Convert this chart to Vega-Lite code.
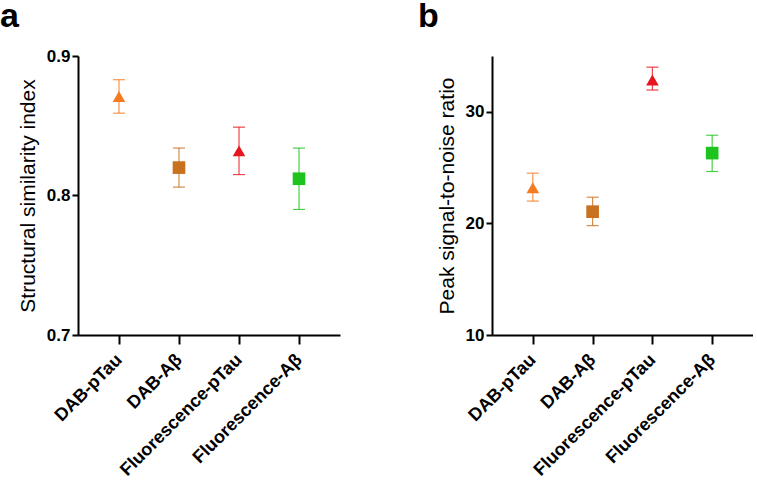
{
  "$schema": "https://vega.github.io/schema/vega-lite/v6.json",
  "padding": {"left": 0, "top": 0, "right": 0, "bottom": 0},
  "background": "white",
  "datasets": {
    "d": [
      {"group": "DAB-pTau", "ssim": 0.871, "ssim_lo": 0.859, "ssim_hi": 0.883, "psnr": 23.2, "psnr_lo": 22.0, "psnr_hi": 24.5},
      {"group": "DAB-Aβ", "ssim": 0.820, "ssim_lo": 0.806, "ssim_hi": 0.834, "psnr": 21.05, "psnr_lo": 19.8, "psnr_hi": 22.35},
      {"group": "Fluorescence-pTau", "ssim": 0.832, "ssim_lo": 0.815, "ssim_hi": 0.849, "psnr": 32.85, "psnr_lo": 31.95, "psnr_hi": 34.0},
      {"group": "Fluorescence-Aβ", "ssim": 0.812, "ssim_lo": 0.790, "ssim_hi": 0.834, "psnr": 26.3, "psnr_lo": 24.65, "psnr_hi": 27.9}
    ]
  },
  "config": {
    "view": {"stroke": null},
    "font": "Liberation Sans",
    "axis": {
      "domainColor": "black", "domainWidth": 2, "tickColor": "black", "tickWidth": 2, "tickSize": 6,
      "labelFont": "Liberation Sans", "labelFontSize": 17, "labelFontWeight": "bold", "labelColor": "black",
      "titleFont": "Liberation Sans", "titleFontSize": 21, "titleFontWeight": "normal", "titleColor": "black",
      "grid": false
    },
    "title": {"font": "Liberation Sans", "fontSize": 34, "fontWeight": "bold", "anchor": "start", "color": "black", "baseline": "alphabetic"}
  },
  "spacing": 78,
  "hconcat": [
    {
      "width": 262, "height": 279,
      "title": {"text": "a", "frame": "group", "dx": -78, "offset": 13},
      "data": {"name": "d"},
      "encoding": {
        "x": {"field": "group", "type": "nominal", "sort": ["DAB-pTau", "DAB-Aβ", "Fluorescence-pTau", "Fluorescence-Aβ"],
              "scale": {"type": "point", "padding": 0.683},
              "axis": {"title": null, "labelAngle": -45, "labelAlign": "right", "labelBaseline": "middle", "labelPadding": 13, "labelFontSize": 18, "tickSize": 9}},
        "color": {"field": "group", "type": "nominal", "legend": null,
                  "scale": {"domain": ["DAB-pTau", "DAB-Aβ", "Fluorescence-pTau", "Fluorescence-Aβ"], "range": ["#F47B20", "#C8711E", "#E6161E", "#1EC31E"]}}
      },
      "layer": [
        {"mark": {"type": "rule", "strokeWidth": 1.2, "opacity": 0.8},
         "encoding": {"y": {"field": "ssim_lo", "type": "quantitative", "scale": {"domain": [0.7, 0.9], "nice": false, "zero": false},
                            "axis": {"values": [0.7, 0.8, 0.9], "format": ".1f", "title": "Structural similarity index", "titlePadding": 8}},
                      "y2": {"field": "ssim_hi"}}},
        {"mark": {"type": "tick", "thickness": 1.2, "size": 12, "opacity": 0.8},
         "encoding": {"y": {"field": "ssim_lo", "type": "quantitative", "title": "Structural similarity index"}}},
        {"mark": {"type": "tick", "thickness": 1.2, "size": 12, "opacity": 0.8},
         "encoding": {"y": {"field": "ssim_hi", "type": "quantitative", "title": "Structural similarity index"}}},
        {"mark": {"type": "point", "filled": true, "opacity": 1, "size": 160},
         "encoding": {"y": {"field": "ssim", "type": "quantitative", "title": "Structural similarity index"},
                      "shape": {"field": "group", "type": "nominal", "legend": null,
                                "scale": {"domain": ["DAB-pTau", "DAB-Aβ", "Fluorescence-pTau", "Fluorescence-Aβ"], "range": ["triangle-up", "square", "triangle-up", "square"]}}}}
      ]
    },
    {
      "width": 261, "height": 279,
      "title": {"text": "b", "frame": "group", "dx": -74, "offset": 22},
      "data": {"name": "d"},
      "encoding": {
        "x": {"field": "group", "type": "nominal", "sort": ["DAB-pTau", "DAB-Aβ", "Fluorescence-pTau", "Fluorescence-Aβ"],
              "scale": {"type": "point", "padding": 0.683},
              "axis": {"title": null, "labelAngle": -45, "labelAlign": "right", "labelBaseline": "middle", "labelPadding": 13, "labelFontSize": 18, "tickSize": 9}},
        "color": {"field": "group", "type": "nominal", "legend": null,
                  "scale": {"domain": ["DAB-pTau", "DAB-Aβ", "Fluorescence-pTau", "Fluorescence-Aβ"], "range": ["#F47B20", "#C8711E", "#E6161E", "#1EC31E"]}}
      },
      "layer": [
        {"mark": {"type": "rule", "strokeWidth": 1.2, "opacity": 0.8},
         "encoding": {"y": {"field": "psnr_lo", "type": "quantitative", "scale": {"domain": [10, 35], "nice": false, "zero": false},
                            "axis": {"values": [10, 20, 30], "title": "Peak signal-to-noise ratio", "titlePadding": 8}},
                      "y2": {"field": "psnr_hi"}}},
        {"mark": {"type": "tick", "thickness": 1.2, "size": 12, "opacity": 0.8},
         "encoding": {"y": {"field": "psnr_lo", "type": "quantitative", "title": "Peak signal-to-noise ratio"}}},
        {"mark": {"type": "tick", "thickness": 1.2, "size": 12, "opacity": 0.8},
         "encoding": {"y": {"field": "psnr_hi", "type": "quantitative", "title": "Peak signal-to-noise ratio"}}},
        {"mark": {"type": "point", "filled": true, "opacity": 1, "size": 160},
         "encoding": {"y": {"field": "psnr", "type": "quantitative", "title": "Peak signal-to-noise ratio"},
                      "shape": {"field": "group", "type": "nominal", "legend": null,
                                "scale": {"domain": ["DAB-pTau", "DAB-Aβ", "Fluorescence-pTau", "Fluorescence-Aβ"], "range": ["triangle-up", "square", "triangle-up", "square"]}}}}
      ]
    }
  ]
}
